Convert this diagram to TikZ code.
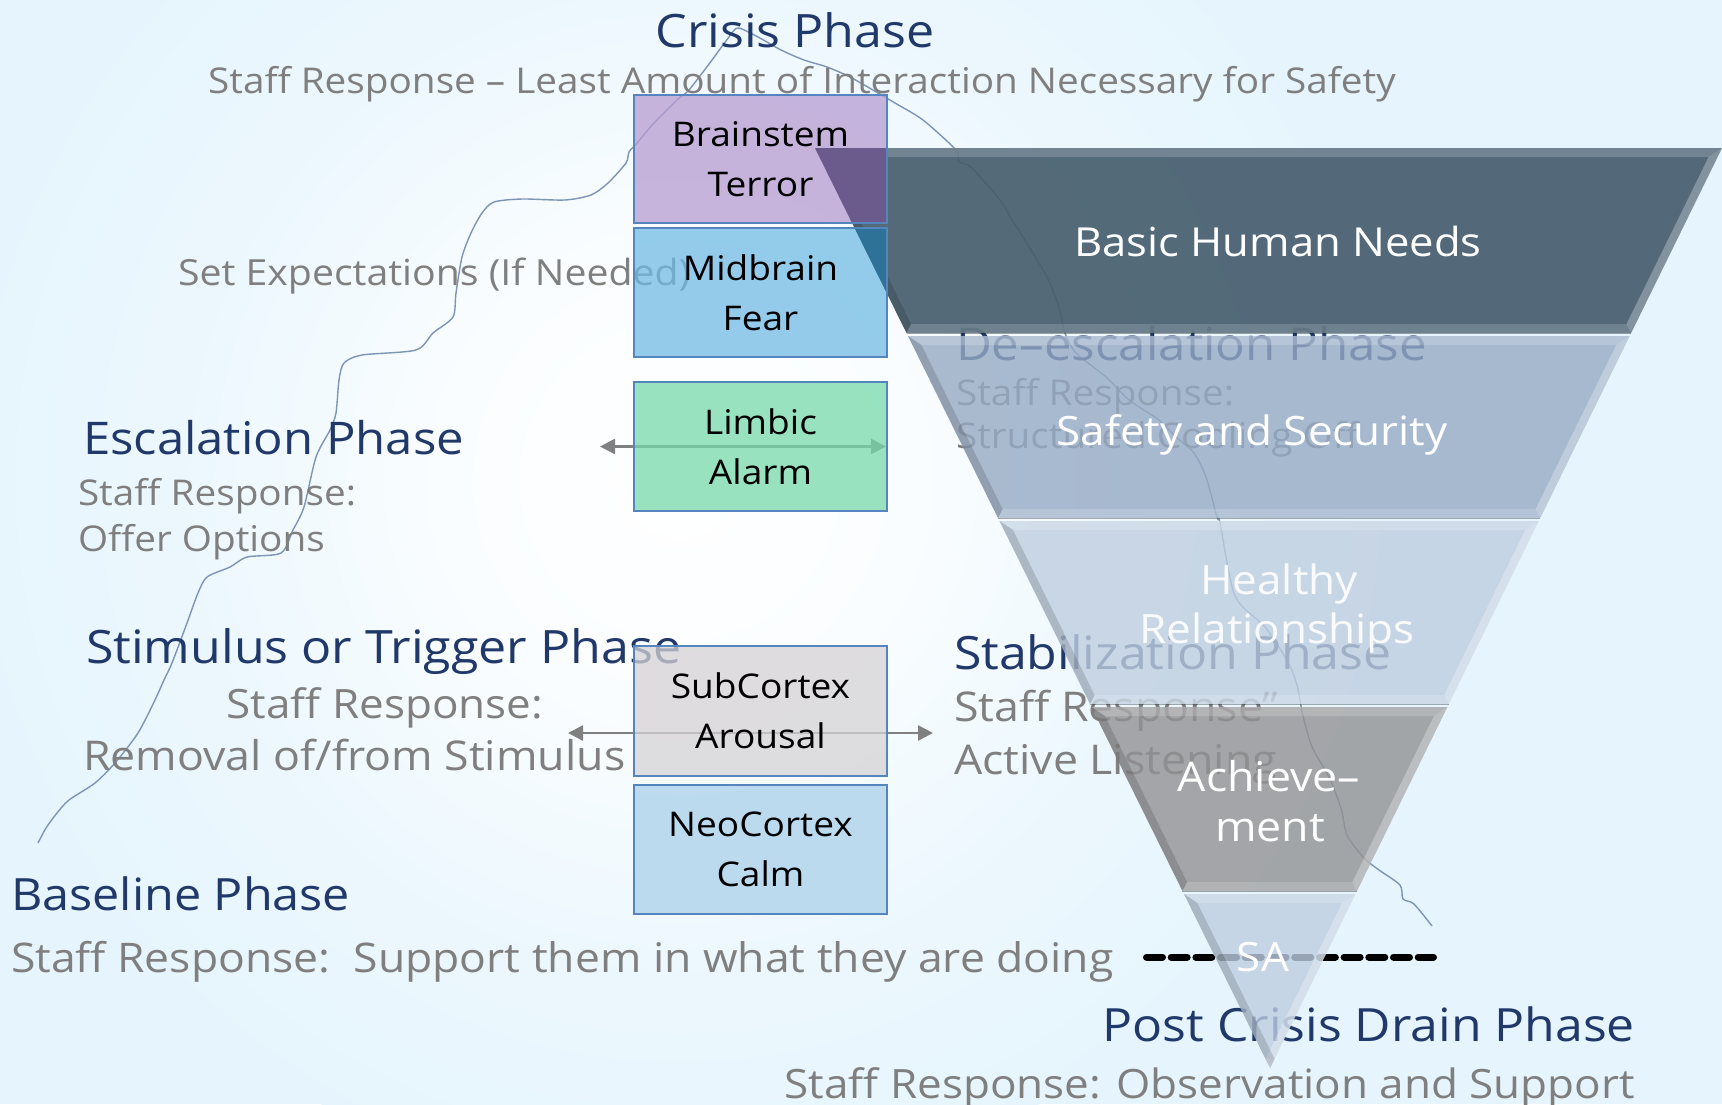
\documentclass[tikz,border=0pt]{standalone}
\usepackage{fontspec}
\setmainfont{Open Sans}[FakeStretch=1.09]
\usetikzlibrary{arrows.meta}
\definecolor{bgc}{HTML}{E6F5FD}
\definecolor{navy}{HTML}{21396A}
\definecolor{srgray}{HTML}{7F7F7F}
\definecolor{boxb}{HTML}{5585BE}
\definecolor{lav}{HTML}{B69CD1}
\definecolor{midb}{HTML}{72BBE4}
\definecolor{limb}{HTML}{77D9AC}
\definecolor{subc}{HTML}{D5D2D4}
\definecolor{neoc}{HTML}{AAD0E9}
\definecolor{ovpur}{HTML}{6B5A8C}
\definecolor{ovteal}{HTML}{2F7298}
\definecolor{bandA}{HTML}{475E6E}
\definecolor{bandB}{HTML}{96AAC4}
\definecolor{bandC}{HTML}{BFCEDF}
\definecolor{bandD}{HTML}{929193}
\definecolor{bandE}{HTML}{BDCDE0}
\definecolor{curvec}{HTML}{7D94B5}
\definecolor{arrg}{HTML}{808080}
\pgfdeclareradialshading{glow}{\pgfpoint{0bp}{0bp}}{color(0bp)=(white); color(8bp)=(white!80!bgc); color(17bp)=(white!25!bgc); color(25bp)=(bgc); color(50bp)=(bgc)}
\newcommand\fsz[1]{\fontsize{#1}{#1}\selectfont}
\newcommand\pyrband[4]{%
  \pgfmathsetmacro\pLt{815+0.494565*(#1-148)}%
  \pgfmathsetmacro\pRt{1722-0.491304*(#1-148)}%
  \pgfmathsetmacro\pLb{815+0.494565*(#2-148)}%
  \pgfmathsetmacro\pRb{1722-0.491304*(#2-148)}%
  \pgfmathsetmacro\pti{#1+9}%
  \pgfmathsetmacro\pbi{#2-9}%
  \pgfmathsetmacro\pLti{815+0.494565*(\pti-148)+9}%
  \pgfmathsetmacro\pRti{1722-0.491304*(\pti-148)-9}%
  \pgfmathsetmacro\pLbi{815+0.494565*(\pbi-148)+9}%
  \pgfmathsetmacro\pRbi{1722-0.491304*(\pbi-148)-9}%
  \fill[#3, opacity=#4] (\pLt,#1) -- (\pRt,#1) -- (\pRb,#2) -- (\pLb,#2) -- cycle;
  \fill[white, opacity=.18] (\pLt,#1) -- (\pRt,#1) -- (\pRti,\pti) -- (\pLti,\pti) -- cycle;
  \fill[white, opacity=.28] (\pRt,#1) -- (\pRb,#2) -- (\pRbi,\pbi) -- (\pRti,\pti) -- cycle;
  \fill[white, opacity=.16] (\pLb,#2) -- (\pRb,#2) -- (\pRbi,\pbi) -- (\pLbi,\pbi) -- cycle;
  \fill[black, opacity=.14] (\pLt,#1) -- (\pLti,\pti) -- (\pLbi,\pbi) -- (\pLb,#2) -- cycle;
  \draw[black, opacity=.3, line width=1pt] (\pLb,#2) -- (\pRb,#2);
}
\tikzset{
  ph/.style={inner sep=0pt, outer sep=0pt, text=navy, font=\fsz{45}},
  sr/.style={inner sep=0pt, outer sep=0pt, text=srgray, font=\fsz{35.5}},
  wt/.style={inner sep=0pt, outer sep=0pt, text=white, font=\fsz{40.4}},
  box/.style={draw=boxb, line width=2.5pt, minimum width=253pt, minimum height=128pt,
    inner sep=0pt, align=center, font=\fontsize{34}{50}\selectfont},
  boxfill/.style={preaction={fill=#1, fill opacity=.75}},
  arr/.style={draw=arrg, line width=2.5pt,
    {Triangle[length=15pt,width=15pt]}-{Triangle[length=15pt,width=15pt]}},
  dashline/.style={line width=7pt, line cap=round, dash pattern=on 16pt off 8.7pt},
  curveline/.style={draw=curvec, line width=1.4pt}
}
\begin{document}
\begin{tikzpicture}[x=1pt,y=-1pt]
\useasboundingbox (0,0) rectangle (1722,1104);
\begin{scope}
\clip (0,0) rectangle (1722,1104);
% background
\fill[bgc] (0,0) rectangle (1722,1104);
\shade[shading=glow] (680,480) circle (720);

% escalation curve
\draw[curveline] plot[smooth, tension=0.45] coordinates {
 (38,843) (46,828) (57,813) (69,800) (95,783) (115,763) (138,733) (155,700)
 (164,680) (172,663) (187,623) (198,593) (207,577) (230,567) (247,557) (281,553)
 (293,530) (304,507) (316,457) (330,430) (336,413) (339,380) (344,363) (362,355)
 (416,350) (433,333) (453,317) (456,293) (462,257) (471,233) (482,213) (494,202)
 (522,199) (565,200) (591,195) (608,183) (626,163) (629,152) (637,143) (654,123)
 (677,100) (689,90) (712,60) (729,37) (738,28) (758,37) (781,50) (804,60)
 (827,67) (850,77) (878,93) (895,103) (923,120) (956,150) (959,162) (971,167)
 (1000,200) (1012,220) (1023,237) (1047,277) (1059,307) (1065,333) (1076,353)
 (1106,377) (1129,400) (1159,420) (1176,437) (1194,453) (1206,477) (1217,517)
 (1220,523) (1235,596) (1265,627) (1288,662) (1297,685) (1303,716) (1312,747)
 (1329,777) (1341,808) (1347,835) (1364,858) (1379,870) (1400,885) (1403,899)
 (1414,904) (1432,926)};

% phase texts
\node[ph, font=\fsz{46}, anchor=base] (crisis) at (795,47) {Crisis Phase};
\node[sr, anchor=base] (crisisR) at (802,93) {Staff Response – Least Amount of Interaction Necessary for Safety};
\node[sr, font=\fsz{36}, anchor=base west] (setexp) at (178,285) {Set Expectations (If Needed)};
\node[ph, anchor=base west] (escal) at (83,454) {Escalation Phase};
\node[sr, anchor=base west] (escR1) at (78,505) {Staff Response:};
\node[sr, anchor=base west] (escR2) at (78,551) {Offer Options};
\node[ph, font=\fsz{46}, anchor=base west] (stim) at (86,663) {Stimulus or Trigger Phase};
\node[sr, font=\fsz{40.4}, anchor=base] (stimR1) at (385,718) {Staff Response:};
\node[sr, font=\fsz{41}, anchor=base west] (stimR2) at (83,770) {Removal of/from Stimulus};
\node[ph, font=\fsz{44.5}, anchor=base west] (basel) at (11,910) {Baseline Phase};
\node[sr, font=\fsz{40.8}, anchor=base west] (baseR) at (11,972) {Staff Response:\ \ Support them in what they are doing};
\node[ph, font=\fsz{45.8}, anchor=base east] (post) at (1635,1041) {Post Crisis Drain Phase};
\node[sr, font=\fsz{40.4}, anchor=base east] (postR) at (1635,1098) {Staff Response: Observation and Support};
\node[ph, font=\fsz{45.9}, anchor=base west] (stab) at (954,669) {Stabilization Phase};
\node[sr, font=\fsz{41}, anchor=base west] (stabR1) at (954,721) {Staff Response”};
\node[sr, font=\fsz{41}, anchor=base west] (stabR2) at (954,774) {Active Listening};
\node[ph, font=\fsz{45.2}, anchor=base west] (deesc) at (956,360) {De–escalation Phase};
\node[sr, anchor=base west] (deR1) at (956,405) {Staff Response:};
\node[sr, anchor=base west] (deR2) at (956,448) {Structured Cooling Off};

% dashed SA line
\coordinate (dashL) at (1146.5,957);
\coordinate (dashR) at (1433.5,957);
\draw[dashline] (dashL) -- (dashR);

% arrows
\coordinate (limL) at (600,446.5);
\coordinate (limR) at (886,446.5);
\coordinate (subL) at (568,733);
\coordinate (subR) at (933,733);
\draw[arr] (limL) -- (limR);
\draw[arr] (subL) -- (subR);

% inverted pyramid
\pyrband{148}{333}{bandA}{0.92}
\pyrband{336}{518}{bandB}{0.8}
\pyrband{521}{704}{bandC}{0.8}
\pyrband{707}{891}{bandD}{0.8}
\pyrband{894}{1068}{bandE}{0.8}

% brain boxes
\node[box, boxfill=lav] (brainstem) at (760.5,159) {Brainstem\\Terror};
\node[box, boxfill=midb, minimum height=129pt] (midbrain) at (760.5,292.5) {Midbrain\\Fear};
\node[box, boxfill=limb, minimum height=129pt] (limbic) at (760.5,446.5) {Limbic\\Alarm};
\node[box, boxfill=subc, minimum height=130pt] (subcortex) at (760.5,711) {SubCortex\\Arousal};
\node[box, boxfill=neoc, minimum height=129pt] (neocortex) at (760.5,849.5) {NeoCortex\\Calm};

% where the top band lies over the upper boxes
\begin{scope}
\clip ([xshift=2.5pt,yshift=-2.5pt]brainstem.north west) rectangle ([xshift=-2.5pt,yshift=2.5pt]brainstem.south east);
\fill[ovpur] (815,148) -- (1722,148) -- (1631.1,333) -- (906.5,333) -- cycle;
\end{scope}
\begin{scope}
\clip ([xshift=2.5pt,yshift=-2.5pt]midbrain.north west) rectangle ([xshift=-2.5pt,yshift=2.5pt]midbrain.south east);
\fill[ovteal] (815,148) -- (1722,148) -- (1631.1,333) -- (906.5,333) -- cycle;
\end{scope}

% pyramid labels
\node[wt, font=\fsz{40}, anchor=base] (bhn) at (1278,256) {Basic Human Needs};
\node[wt, anchor=base] (sas) at (1252,445) {Safety and Security};
\node[wt, anchor=base, opacity=.9] (hr1) at (1279,594) {Healthy};
\node[wt, anchor=base, opacity=.9] (hr2) at (1277,643) {Relationships};
\node[wt, font=\fsz{41}, anchor=base] (ach1) at (1269,791) {Achieve–};
\node[wt, font=\fsz{41}, anchor=base] (ach2) at (1270,841) {ment};
\node[wt, anchor=base] (sa) at (1263,971) {SA};
\end{scope}
\end{tikzpicture}
\end{document}
